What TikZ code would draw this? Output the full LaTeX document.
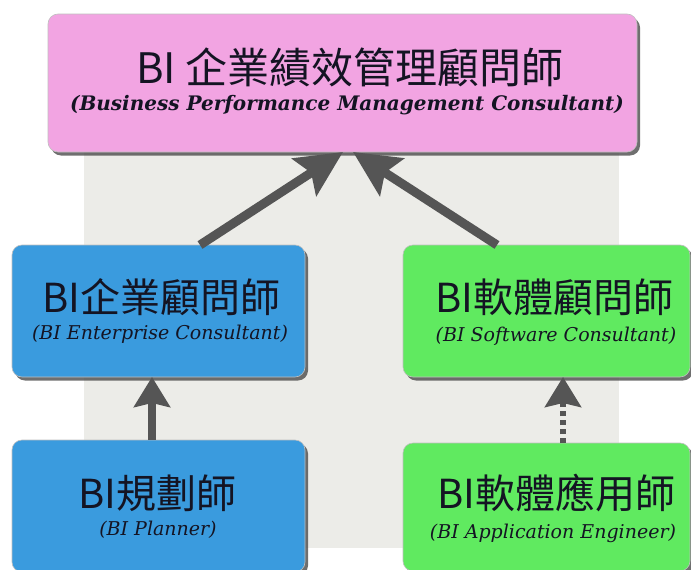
\documentclass[tikz,border=0pt]{standalone}
\usepackage{fontspec}
\newfontfamily\cjk{Noto Sans CJK TC}
\newfontfamily\subfont{DejaVu Serif}
\usetikzlibrary{arrows.meta,shadows}
\definecolor{pinkbox}{RGB}{242,164,226}
\definecolor{bluebox}{RGB}{58,155,222}
\definecolor{greenbox}{RGB}{96,234,96}
\definecolor{bggray}{RGB}{236,236,232}
\definecolor{arrowgray}{RGB}{85,85,85}
\definecolor{txt}{RGB}{20,20,35}
\tikzset{
  card/.style={rectangle, rounded corners=10pt, inner sep=0pt, outer sep=0pt,
    draw=black!25, line width=0.6pt,
    drop shadow={shadow xshift=3pt, shadow yshift=-3.5pt, opacity=0.75, fill=black!75}},
  bigtitle/.style={inner sep=0pt, text=txt, font=\cjk\fontsize{42}{46}\selectfont},
  midtitle/.style={inner sep=0pt, text=txt, font=\cjk\fontsize{40}{44}\selectfont},
  subtxt/.style={inner sep=0pt, text=txt, font=\subfont\itshape\fontsize{19}{22}\selectfont},
  topsub/.style={inner sep=0pt, text=txt, font=\subfont\bfseries\itshape\fontsize{20}{24}\selectfont},
  bigarrow/.style={draw=arrowgray, line width=9pt, -{Stealth[length=46pt, width=44pt, inset=8pt]}},
  vertarrow/.style={draw=arrowgray, line width=7.5pt, -{Stealth[length=30pt, width=36pt, inset=4pt]}},
  dasharrow/.style={draw=arrowgray, line width=6pt, dash pattern=on 5pt off 4pt, -{Stealth[length=30pt, width=36pt, inset=4pt]}}
}
\begin{document}
\begin{tikzpicture}[x=1pt, y=-1pt]
\useasboundingbox (0,0) rectangle (691,570);
\fill[white] (0,0) rectangle (691,570);
\fill[bggray] (84,140) rectangle (619,548);

% boxes
\node[card, fill=pinkbox, minimum width=589pt, minimum height=138pt] (top) at (342.5,83) {};
\node[card, fill=bluebox, minimum width=293pt, minimum height=132pt] (ent) at (158.5,311) {};
\node[card, fill=greenbox, minimum width=287pt, minimum height=132pt] (soft) at (546.5,311) {};
\node[card, fill=bluebox, minimum width=293pt, minimum height=132pt] (plan) at (158.5,506) {};
\node[card, fill=greenbox, minimum width=287pt, minimum height=128pt] (app) at (546.5,507) {};

% texts
\node[bigtitle] (topt) at (350,67) {BI 企業績效管理顧問師};
\node[topsub] (tops) at (347,105) {(Business Performance Management Consultant)};
\node[midtitle] (entt) at (161,297) {BI企業顧問師};
\node[subtxt] (ents) at (160,334) {(BI Enterprise Consultant)};
\node[midtitle] (softt) at (554,297) {BI軟體顧問師};
\node[subtxt] (softs) at (556,336) {(BI Software Consultant)};
\node[midtitle] (plant) at (157,493) {BI規劃師};
\node[subtxt] (plans) at (158,530) {(BI Planner)};
\node[midtitle] (appt) at (556,493) {BI軟體應用師};
\node[subtxt] (apps) at (553,533) {(BI Application Engineer)};

% arrows
\draw[bigarrow] ([xshift=41.5pt]ent.north) -- ([xshift=0.5pt]top.south);
\draw[bigarrow] ([xshift=-49.5pt]soft.north) -- ([xshift=10.5pt]top.south);
\draw[vertarrow] ([xshift=-6.5pt]plan.north) -- ([xshift=-6.5pt]ent.south);
\draw[dasharrow] ([xshift=16.5pt]app.north) -- ([xshift=16.5pt]soft.south);
\end{tikzpicture}
\end{document}
